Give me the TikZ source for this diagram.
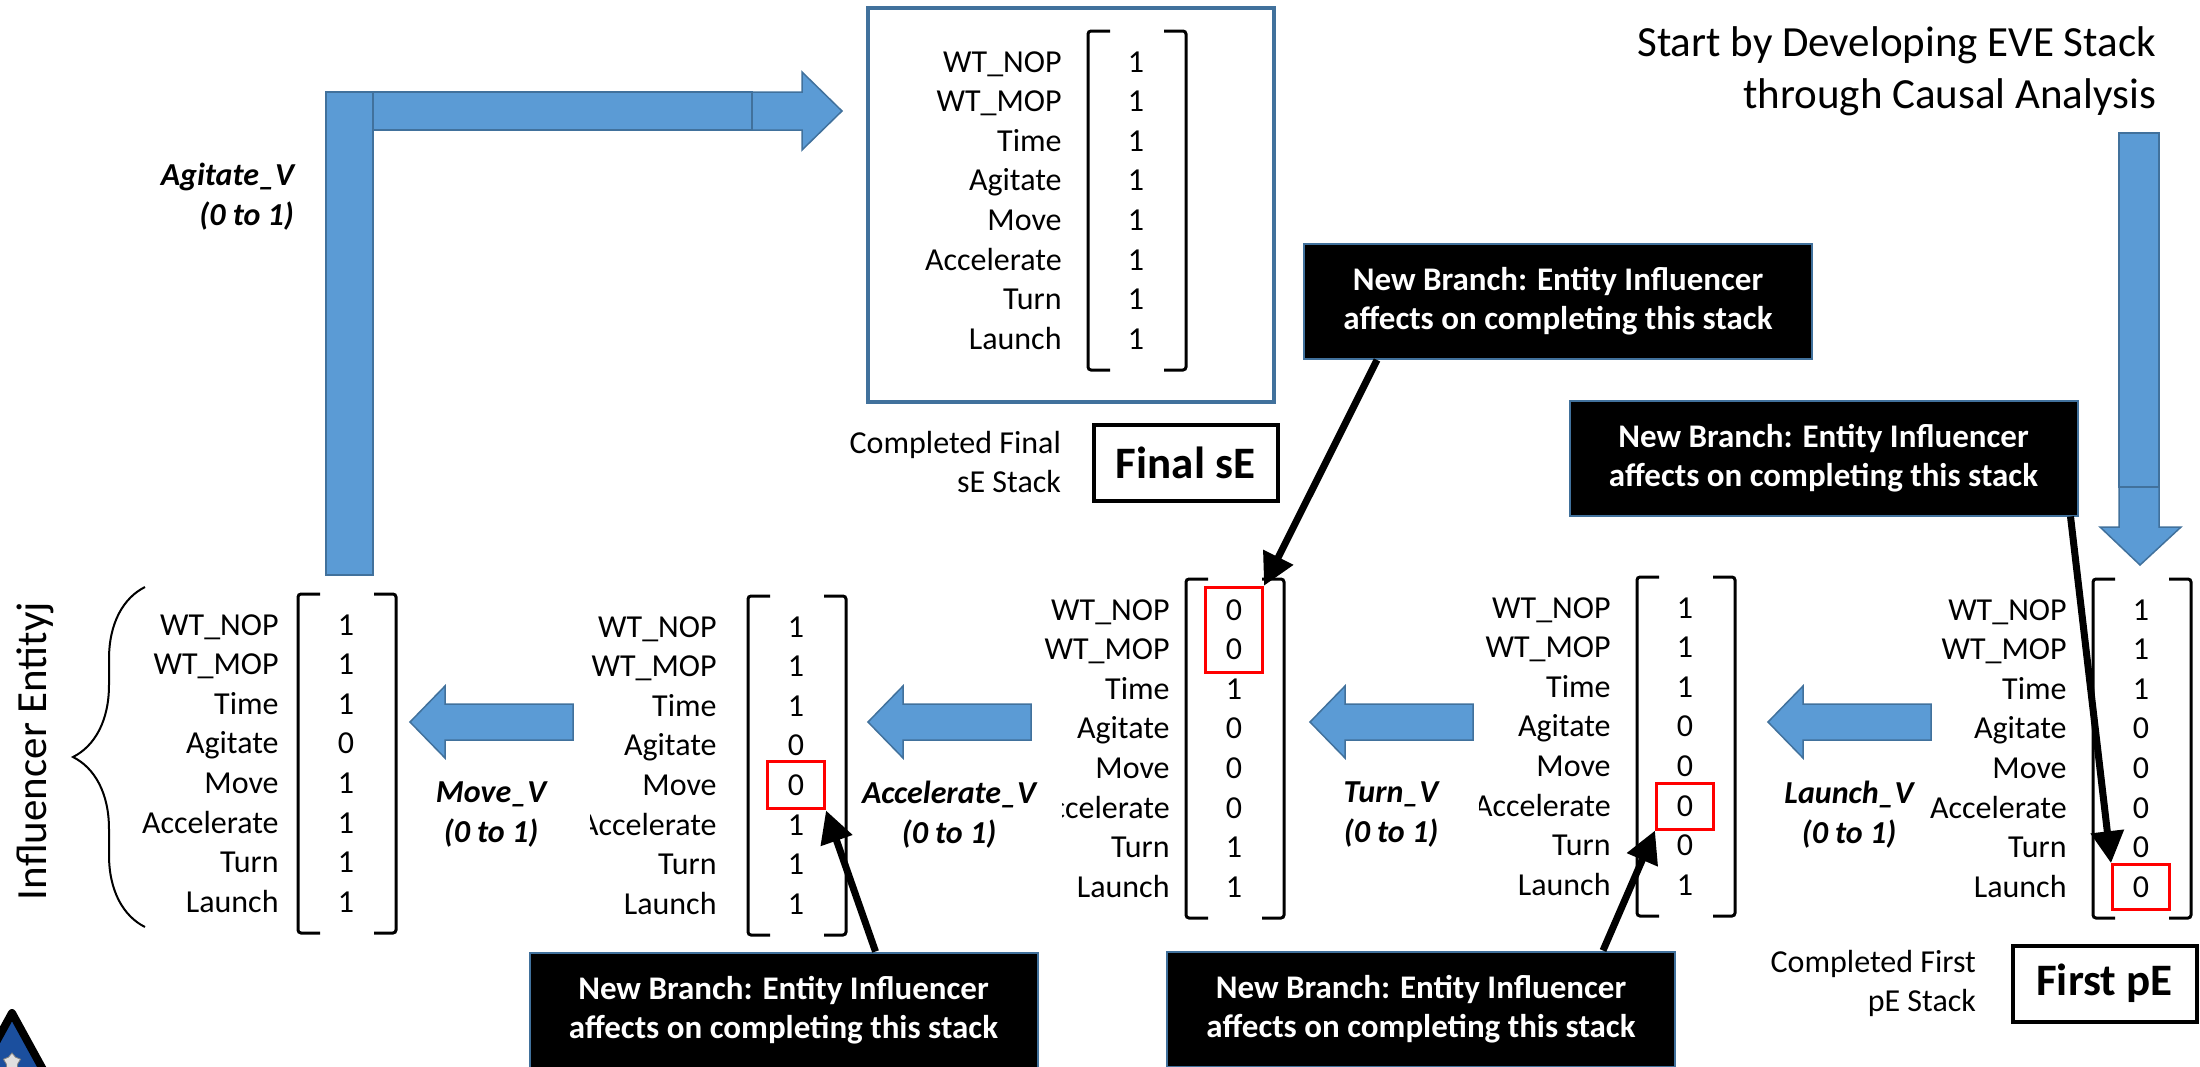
\documentclass[tikz,border=0pt]{standalone}
\usepackage{fontspec}
\setmainfont{Carlito}
\usetikzlibrary{arrows.meta,calc,decorations.pathreplacing,shapes.geometric}

\definecolor{arrowblue}{HTML}{5B9BD5}
\definecolor{edgeblue}{HTML}{41719C}
\definecolor{logoblue}{HTML}{1B4F9E}

\tikzset{
	stacklabel/.style={anchor=east,inner sep=0pt,text height=13pt,text depth=3pt,font=\fontsize{16}{19}\selectfont},
	stackvalue/.style={inner sep=0pt,text height=13pt,text depth=3pt,font=\fontsize{16}{19}\selectfont},
	bracketline/.style={line width=1.5pt,rounded corners=1.5pt},
	blockarrow/.style={fill=arrowblue,draw=edgeblue,line width=0.75pt},
	branchbox/.style={fill=black,draw=edgeblue,line width=1pt,text=white,align=center,inner sep=0pt,
		minimum width=254pt,minimum height=57.5pt,font=\bfseries\fontsize{16.5}{19.5}\selectfont},
	branch/.style={line width=3.5pt,-{Triangle[length=16pt,width=16pt]}},
	redbox/.style={draw=red,line width=1.5pt,minimum width=28.5pt,inner sep=0pt},
	tagbox/.style={draw,line width=2pt,minimum width=92pt,minimum height=38pt,inner sep=0pt,
		font=\bfseries\fontsize{22.5}{27}\selectfont},
	varlabel/.style={align=center,font=\bfseries\itshape\fontsize{16}{20}\selectfont},
	caption/.style={anchor=east,align=right,font=\fontsize{16}{19.5}\selectfont}
}

\newcommand{\EveStack}[6]{%
	\begin{scope}
	\clip (#2-300,#4-40) rectangle (#3,#4+178) (#6,#4+178) rectangle (#3,#4+218) (#2-300,#4+218) rectangle (#3,#4+300);
	\foreach \lbl [count=\i] in {WT\_NOP,WT\_MOP,Time,Agitate,Move,Accelerate,Turn,Launch}
		\node[stacklabel] (#1-l\i) at (#2,#4+39.6*\i-39.6) {\lbl};
	\end{scope}
	\foreach \val [count=\i] in {#5}
		\node[stackvalue] (#1-v\i) at (#3+48,#4+39.6*\i-39.6) {\val};
	\draw[bracketline] (#3+22,#4-31)--(#3,#4-31)--(#3,#4+308)--(#3+22,#4+308);
	\draw[bracketline] (#3+76,#4-31)--(#3+98,#4-31)--(#3+98,#4+308)--(#3+76,#4+308);
}

\begin{document}
\begin{tikzpicture}[x=0.5pt,y=-0.5pt]
\useasboundingbox (0,0) rectangle (2200,1066);

\draw[blockarrow] (326,92) rectangle (373,575);
\draw[blockarrow] (373,92) rectangle (752,130);
\draw[blockarrow] (752,92)--(802,92)--(802,72)--(842,111)--(802,150)--(802,130)--(752,130)--cycle;
\node[varlabel,anchor=east,align=right] (agitatev) at (301,197) {Agitate\_V\\(0 to 1)};

\draw[blockarrow] (2119,478)--(2159,478)--(2159,527)--(2181,527)--(2140,565)--(2100,527)--(2119,527)--cycle;
\draw[blockarrow] (2119,133) rectangle (2159,487);
\node[anchor=east,align=right,font=\fontsize{21.5}{26}\selectfont] (start) at (2163,71)
	{Start by Developing EVE Stack\\through Causal Analysis};

\foreach \tip/\act/\nm in {410/Move/movev,868/Accelerate/accelv,1310/Turn/turnv,1768/Launch/launchv}{
	\draw[blockarrow] (\tip,722)--++(35,-36)--++(0,18)--++(128,0)--++(0,36)--++(-128,0)--++(0,18)--cycle;
	\node[varlabel] (\nm) at (\tip+81,815) {\act\_V\\(0 to 1)};
}

\node[rotate=90,font=\fontsize{21.5}{25}\selectfont] (infl) at (35,751) {Influencer Entityj};
\draw[decorate,decoration={brace,amplitude=36pt},line width=1pt] (145,927)--(145,587);

\EveStack{s1}{279}{298}{625}{1,1,1,0,1,1,1,1}{60}
\EveStack{s2}{717}{748}{627}{1,1,1,0,0,1,1,1}{590}
\EveStack{s3}{1170}{1186}{610}{0,0,1,0,0,0,1,1}{1062}
\EveStack{s4}{1611}{1637}{608}{1,1,1,0,0,0,0,1}{1479}
\EveStack{s5}{2067}{2093}{610}{1,1,1,0,0,0,0,0}{1800}

\node[draw=edgeblue,line width=2pt,minimum width=203pt,minimum height=197pt,inner sep=0pt] (finalframe) at (1071,205) {};
\EveStack{fin}{1062}{1088}{62}{1,1,1,1,1,1,1,1}{880}
\node[caption] (fincap) at (1068,462) {Completed Final\\sE Stack};
\node[tagbox] (finaltag) at (1185.5,462.5) {Final sE};

\node[caption] (firstcap) at (1983,983) {Completed First\\pE Stack};
\node[tagbox] (firsttag) at (2104.5,983.5) {First pE};

\node[redbox,minimum height=23.5pt] (rb2) at (s2-v5) {};
\node[redbox,minimum height=42.5pt] (rb3) at ($(s3-v1)!0.5!(s3-v2)$) {};
\node[redbox,minimum height=23pt] (rb4) at (s4-v6) {};
\node[redbox,minimum height=22.5pt] (rb5) at (s5-v8) {};

\node[branchbox] (nbtop) at (1558,301.5) {New Branch: Entity Influencer\\affects on completing this stack};
\node[branchbox] (nbright) at (1823.5,458) {New Branch: Entity Influencer\\affects on completing this stack};
\node[branchbox] (nbleft) at (783.5,1010) {New Branch: Entity Influencer\\affects on completing this stack};
\node[branchbox] (nbmid) at (1421,1009) {New Branch: Entity Influencer\\affects on completing this stack};

\draw[branch] ($(nbtop.south west)+(74,0)$)--(rb3.north east);
\draw[branch] ($(nbright.south east)+(-8,0)$)--(rb5.north west);
\draw[branch] ($(nbmid.north east)+(-73,0)$)--(rb4.south west);
\draw[branch] ($(nbleft.north west)+(347,0)$)--(rb2.south east);

\filldraw[fill=logoblue,line width=4pt,line join=round] (-22,1075)--(12,1013)--(46,1075);
\node[star,star points=5,fill=gray!25,draw=gray,inner sep=0pt,minimum size=9pt] (logostar) at (12,1062) {};
\end{tikzpicture}
\end{document}
